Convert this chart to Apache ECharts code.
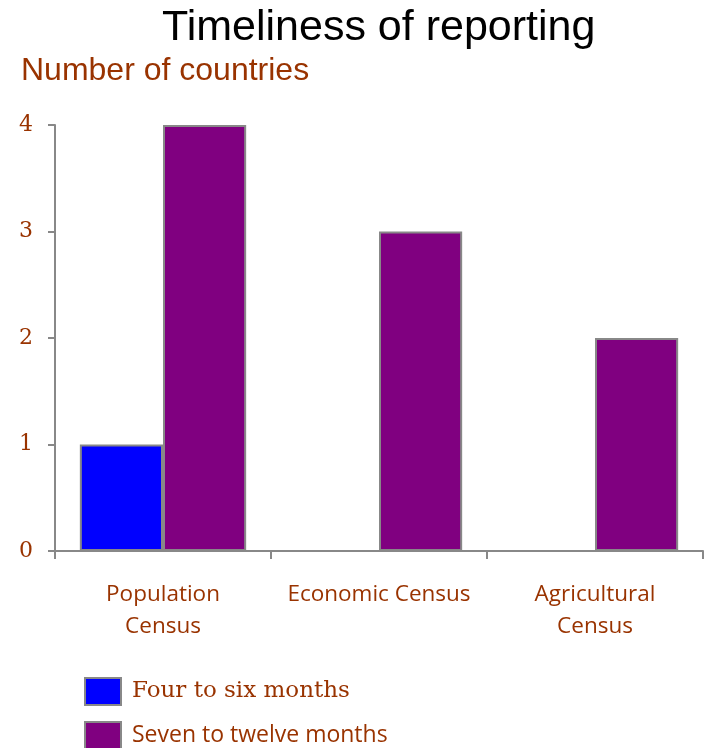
<!DOCTYPE html>
<html>
<head>
<meta charset="utf-8">
<script src="https://cdn.jsdelivr.net/npm/echarts@6/dist/echarts.min.js"></script>
<style>
html,body{margin:0;padding:0;background:#fff;}
#chart{width:705px;height:748px;}
</style>
</head>
<body>
<div id="chart"></div>
<script>
var titleText = 'Timeliness of reporting';
var yAxisTitle = 'Number of countries';
var categories = ['Population\nCensus', 'Economic Census', 'Agricultural\nCensus'];
var seriesNames = ['Four to six months', 'Seven to twelve months'];
var fourToSix = [1, null, null];
var sevenToTwelve = [4, 3, 2];
var yMin = 0, yMax = 4, yInterval = 1;

var brown = '#993300';
var chart = echarts.init(document.getElementById('chart'));
chart.setOption({
  animation: false,
  title: [
    { text: titleText, left: 162, top: 7, padding: 0,
      textStyle: { fontFamily: 'Liberation Sans', fontSize: 43, fontWeight: 'normal', color: '#000' } },
    { text: yAxisTitle, left: 21, top: 55, padding: 0,
      textStyle: { fontFamily: 'Liberation Sans', fontSize: 32, fontWeight: 'normal', color: brown } }
  ],
  legend: {
    orient: 'vertical', left: 84, top: 677, padding: 0, height: 80,
    itemWidth: 36, itemHeight: 27, itemGap: 15,
    icon: 'rect',
    itemStyle: { borderColor: '#888', borderWidth: 2 },
    formatter: function (name) {
      return name === seriesNames[0] ? '{s|' + name + '}' : '{n|' + name + '}';
    },
    textStyle: {
      rich: {
        s: { fontFamily: 'DejaVu Serif', fontSize: 23, color: brown, padding: [0, 0, 0, 6] },
        n: { fontFamily: 'Open Sans', fontSize: 23, color: brown, padding: [0, 0, 0, 6] }
      }
    }
  },
  grid: { left: 55, right: 2, top: 125, bottom: 197, containLabel: false },
  xAxis: {
    type: 'category', data: categories,
    axisLine: { lineStyle: { color: '#888', width: 2 } },
    axisTick: { show: true, length: 8, lineStyle: { color: '#888', width: 2 } },
    axisLabel: { interval: 0, margin: 28, fontFamily: 'Open Sans', fontSize: 22.5, lineHeight: 32, color: brown }
  },
  yAxis: {
    type: 'value', min: yMin, max: yMax, interval: yInterval,
    axisLine: { show: true, lineStyle: { color: '#888', width: 2 } },
    axisTick: { show: true, length: 7, lineStyle: { color: '#888', width: 2 } },
    splitLine: { show: false },
    axisLabel: { margin: 22, fontFamily: 'DejaVu Serif', fontSize: 22, color: brown }
  },
  series: [
    { name: seriesNames[0], type: 'bar', data: fourToSix, barGap: '0%', barCategoryGap: '23%',
      itemStyle: { color: '#0000ff', borderColor: '#888', borderWidth: 2 } },
    { name: seriesNames[1], type: 'bar', data: sevenToTwelve, barGap: '0%', barCategoryGap: '23%',
      itemStyle: { color: '#800080', borderColor: '#888', borderWidth: 2 } }
  ]
});
</script>
</body>
</html>
